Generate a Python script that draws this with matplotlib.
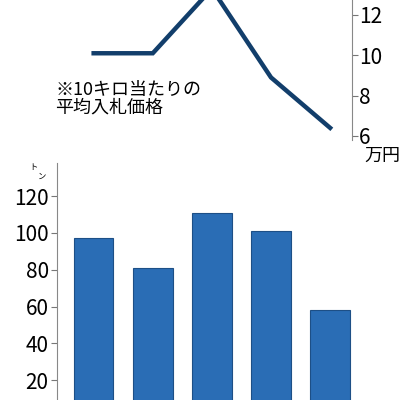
import matplotlib
matplotlib.use("Agg")
import matplotlib.pyplot as plt

plt.rcParams['font.family'] = ['Noto Sans CJK JP', 'DejaVu Sans']

x_pos = [0, 1, 2, 3, 4]
volume = [97, 81, 111, 101, 58]
price = [10.1, 10.1, 13.3, 8.9, 6.4]
bar_ticks = [20, 40, 60, 80, 100, 120]
price_ticks = [6, 8, 10, 12]

W, H = 417, 400
fig = plt.figure(figsize=(W/100, H/100), dpi=100)

def px(l, t, r, b):
    return [l/W, 1 - b/H, (r-l)/W, (b-t)/H]

xl = (-0.62, 4.37)

# bar chart
axb = fig.add_axes(px(57, 163, 352, 400))
axb.bar(x_pos, volume, width=0.67, color='#2a6db5', edgecolor='#1d4f86', linewidth=0.8)
axb.set_xlim(*xl)
axb.set_ylim(9.2, 138)
axb.set_yticks(bar_ticks)
axb.tick_params(axis='y', labelsize=15, length=4, color='#777777', pad=2)
axb.set_xticks([])
for s in ['top', 'right', 'bottom']:
    axb.spines[s].set_visible(False)
axb.spines['left'].set_color('#888888')
fig.text(33/W, 1-167/H, 'ト', fontsize=6, ha='center', va='center')
fig.text(42/W, 1-176/H, 'ン', fontsize=6, ha='center', va='center')

# line chart
axl = fig.add_axes(px(57, 0, 352, 140))
axl.patch.set_alpha(0)
axl.plot(x_pos, price, color='#123e6b', linewidth=3.2, solid_joinstyle='miter')
axl.set_xlim(*xl)
axl.set_ylim(5.8, 12.74)
axl.yaxis.tick_right()
axl.set_yticks(price_ticks)
axl.tick_params(axis='y', labelsize=15, length=4, color='#777777', pad=1)
axl.set_xticks([])
for s in ['top', 'left', 'bottom']:
    axl.spines[s].set_visible(False)
axl.spines['right'].set_color('#888888')
fig.text(55/W, 1-99/H, '※10キロ当たりの\n平均入札価格', fontsize=13, ha='left', va='center', linespacing=1.0)
fig.text(382/W, 1-156/H, '万円', fontsize=13, ha='center', va='center')

fig.savefig('out.png', dpi=100)
